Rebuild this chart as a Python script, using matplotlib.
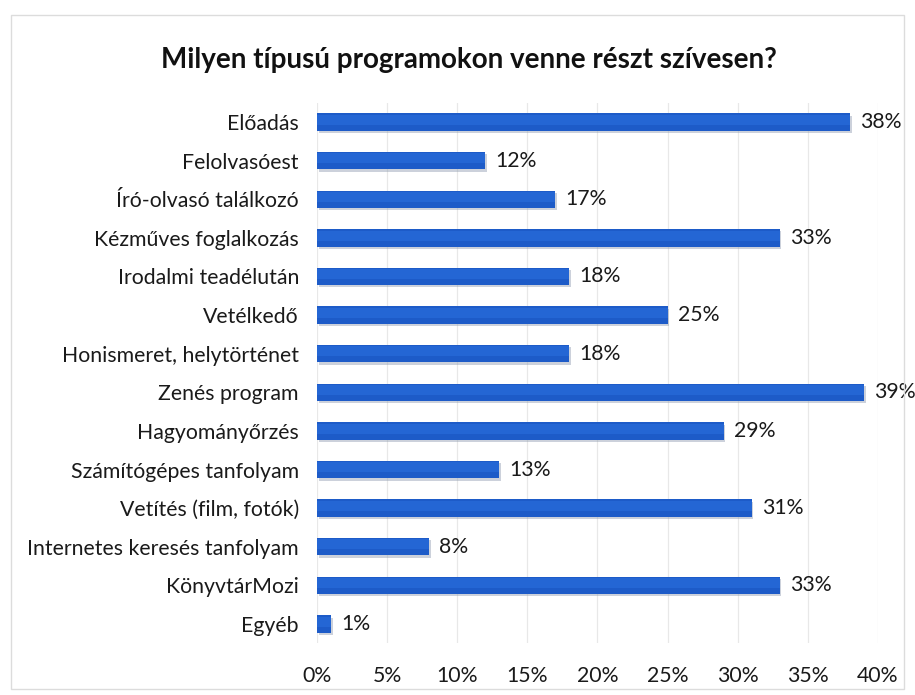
import matplotlib
matplotlib.use("Agg")
import matplotlib.pyplot as plt
from matplotlib.patches import Rectangle

categories = [
    "Előadás", "Felolvasóest", "Író-olvasó találkozó", "Kézműves foglalkozás",
    "Irodalmi teadélután", "Vetélkedő", "Honismeret, helytörténet", "Zenés program",
    "Hagyományőrzés", "Számítógépes tanfolyam", "Vetítés (film, fotók)",
    "Internetes keresés tanfolyam", "KönyvtárMozi", "Egyéb",
]
values = [38, 12, 17, 33, 18, 25, 18, 39, 29, 13, 31, 8, 33, 1]
x_ticks = [0, 5, 10, 15, 20, 25, 30, 35, 40]
x_tick_labels = ["0%", "5%", "10%", "15%", "20%", "25%", "30%", "35%", "40%"]
title = "Milyen típusú programokon venne részt szívesen?"

plt.rcParams['font.family'] = ['Lato', 'DejaVu Sans']
FS = 15.3

fig = plt.figure(figsize=(9.15, 6.95), dpi=100)
fig.patch.set_facecolor("white")
fig.add_artist(Rectangle((0.012, 0.008), 0.976, 0.97, transform=fig.transFigure,
                         fill=False, edgecolor="#dcdcdc", linewidth=1.0))

ax = fig.add_axes([0.3464, 0.0744, 0.6131, 0.7778])
ypos = list(range(len(categories)))
# soft shadow
ax.barh([y + 0.06 for y in ypos], values, height=0.45, left=0.12,
        color="#8f9bb0", alpha=0.45, zorder=2)
ax.barh(ypos, values, height=0.45, color="#1d5bc8", zorder=3)
# subtle lighter top band
ax.barh([y - 0.06 for y in ypos], values, height=0.26, color="#2466d4", zorder=4)

for y, v in zip(ypos, values):
    ax.text(v + 0.72, y, f"{v}%", va="center", ha="left", fontsize=FS,
            color="#1a1a1a", zorder=5)

ax.set_ylim(len(categories) - 0.5, -0.5)
ax.set_xlim(0, 40)
ax.set_yticks(ypos)
ax.set_yticklabels(categories, fontsize=FS, color="#1a1a1a")
ax.set_xticks(x_ticks)
ax.set_xticklabels(x_tick_labels, fontsize=FS, color="#1a1a1a")
ax.tick_params(axis="both", length=0)
ax.tick_params(axis="y", pad=13)
ax.tick_params(axis="x", pad=16)
ax.grid(axis="x", color="#e8e8e8", linewidth=0.9, zorder=0)
ax.set_axisbelow(True)
for s in ax.spines.values():
    s.set_visible(False)

fig.text(0.513, 0.914, title, ha="center", va="center", fontsize=20,
         fontweight="bold", color="#111111")

fig.savefig("out.png", dpi=100)
